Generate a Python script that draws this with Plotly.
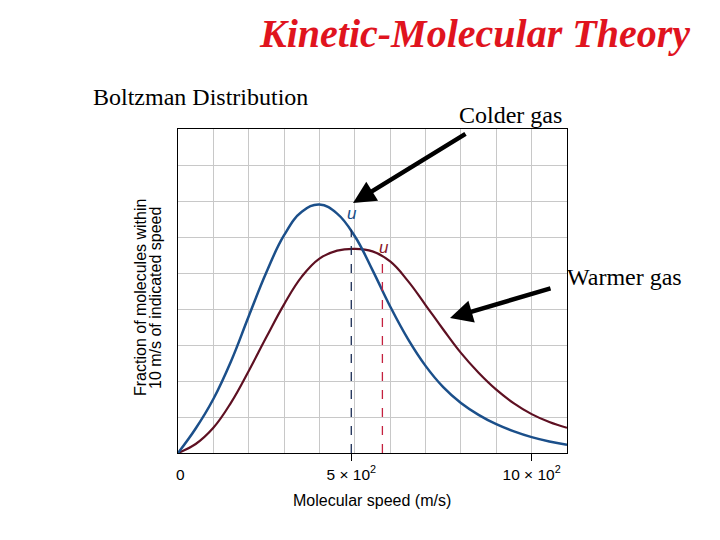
import plotly.graph_objects as go

# ---- data (x in m/s, y in grid units) ----
speed = [0, 50, 100, 150, 200, 250, 300, 350, 400, 450, 500, 550, 600, 650,
         700, 750, 800, 850, 900, 950, 1000, 1050, 1100]
colder = [0, 0.68, 1.5, 2.55, 3.8, 5.02, 6.05, 6.7, 6.9, 6.65, 6.02, 5.08, 4.07,
          3.17, 2.42, 1.83, 1.39, 1.06, 0.8, 0.6, 0.44, 0.32, 0.23]
warmer = [0, 0.25, 0.7, 1.4, 2.28, 3.22, 4.13, 4.9, 5.4, 5.62, 5.67, 5.6,
          5.32, 4.78, 4.11, 3.43, 2.78, 2.23, 1.76, 1.38, 1.08, 0.86, 0.7]
u_cold = 490
u_warm = 578
u_cold_y = 6.2
u_warm_y = 5.45
tick_vals = [490, 1000]
tick_text = ["5 × 10<sup>2</sup>", "10 × 10<sup>2</sup>"]
y_title = ["Fraction of molecules within", "10 m/s of indicated speed"]

BLUE = "#1b4f8a"
MAROON = "#5e1022"

# plot area in pixels
L, R, T, B = 178, 567, 129, 453
W, H = 720, 540


def px(x):
    return (x - L) / (R - L)


def py(y):
    return (B - y) / (B - T)


fig = go.Figure()
fig.add_trace(go.Scatter(x=speed, y=warmer, mode="lines",
                         line=dict(color=MAROON, width=2.2, shape="spline", smoothing=1.2),
                         hoverinfo="skip", showlegend=False))
fig.add_trace(go.Scatter(x=speed, y=colder, mode="lines",
                         line=dict(color=BLUE, width=2.5, shape="spline", smoothing=1.2),
                         hoverinfo="skip", showlegend=False))
fig.add_trace(go.Scatter(x=[u_cold, u_cold], y=[0, u_cold_y], mode="lines",
                         line=dict(color="#1a2c55", width=1.3, dash="dash"), hoverinfo="skip", showlegend=False))
fig.add_trace(go.Scatter(x=[u_warm, u_warm], y=[0, u_warm_y], mode="lines",
                         line=dict(color="#c4213f", width=1.3, dash="dash"), hoverinfo="skip", showlegend=False))

anns = []
# u labels
anns.append(dict(x=px(352), y=py(213), xref="paper", yref="paper", text="<i>u</i>", showarrow=False,
                 xanchor="center", yanchor="middle",
                 font=dict(family="Liberation Sans", size=17, color=BLUE)))
anns.append(dict(x=px(384), y=py(247), xref="paper", yref="paper", text="<i>u</i>", showarrow=False,
                 xanchor="center", yanchor="middle",
                 font=dict(family="Liberation Sans", size=17, color="#8b1a2a")))
# title
anns.append(dict(x=px(474), y=py(33), xref="paper", yref="paper",
                 text="<b><i>Kinetic-Molecular Theory</i></b>", showarrow=False,
                 font=dict(family="Liberation Serif", size=40, color="#e0141e"),
                 xanchor="center", yanchor="middle"))
anns.append(dict(x=px(91), y=py(97), xref="paper", yref="paper", text="Boltzman Distribution",
                 showarrow=False, xanchor="left", yanchor="middle",
                 font=dict(family="Liberation Serif", size=24, color="black")))
anns.append(dict(x=px(457), y=py(115), xref="paper", yref="paper", text="Colder gas",
                 showarrow=False, xanchor="left", yanchor="middle",
                 font=dict(family="Liberation Serif", size=24, color="black")))
anns.append(dict(x=px(565), y=py(277), xref="paper", yref="paper", text="Warmer gas",
                 showarrow=False, xanchor="left", yanchor="middle",
                 font=dict(family="Liberation Serif", size=24, color="black")))
# arrows
anns.append(dict(x=px(353), y=py(203), xref="paper", yref="paper", ax=114, ay=-70, axref="pixel", ayref="pixel",
                 text="", showarrow=True, arrowhead=2, arrowsize=1, arrowwidth=4.5, arrowcolor="black"))
anns.append(dict(x=px(450), y=py(318), xref="paper", yref="paper", ax=102, ay=-30, axref="pixel", ayref="pixel",
                 text="", showarrow=True, arrowhead=2, arrowsize=1, arrowwidth=4.5, arrowcolor="black"))
# zero label
anns.append(dict(x=px(180), y=py(474), xref="paper", yref="paper", text="0", showarrow=False,
                 xanchor="center", yanchor="middle",
                 font=dict(family="Liberation Sans", size=15.5, color="black")))
# axis titles
for xpix, line in zip([140, 155], y_title):
    anns.append(dict(x=px(xpix), y=py(298), xref="paper", yref="paper",
                     text=line, textangle=-90, xanchor="center", yanchor="middle",
                     showarrow=False, font=dict(family="Liberation Sans", size=16, color="black")))
anns.append(dict(x=px(372), y=py(500), xref="paper", yref="paper", text="Molecular speed (m/s)",
                 xanchor="center", yanchor="middle",
                 showarrow=False, font=dict(family="Liberation Sans", size=16, color="black")))

fig.update_layout(
    width=W, height=H, margin=dict(l=L, r=W - R, t=T, b=H - B),
    paper_bgcolor="white", plot_bgcolor="white",
    annotations=anns,
    xaxis=dict(range=[0, 1100], tickvals=tick_vals, ticktext=tick_text, ticks="outside", ticklen=7,
               tickcolor="black", tickwidth=1, showgrid=False, ticklabelstandoff=0,
               minor=dict(dtick=100, tick0=0, showgrid=True, gridcolor="#c8c8c8", gridwidth=1.2, ticks=""),
               showline=True, linecolor="black", linewidth=1.2, mirror=True, zeroline=False,
               tickfont=dict(family="Liberation Sans", size=15.5, color="black")),
    yaxis=dict(range=[0, 9], dtick=1, showticklabels=False, ticks="", showgrid=True,
               gridcolor="#c8c8c8", gridwidth=1.2,
               showline=True, linecolor="black", linewidth=1.2, mirror=True, zeroline=False),
)

fig.write_html("out.html")
